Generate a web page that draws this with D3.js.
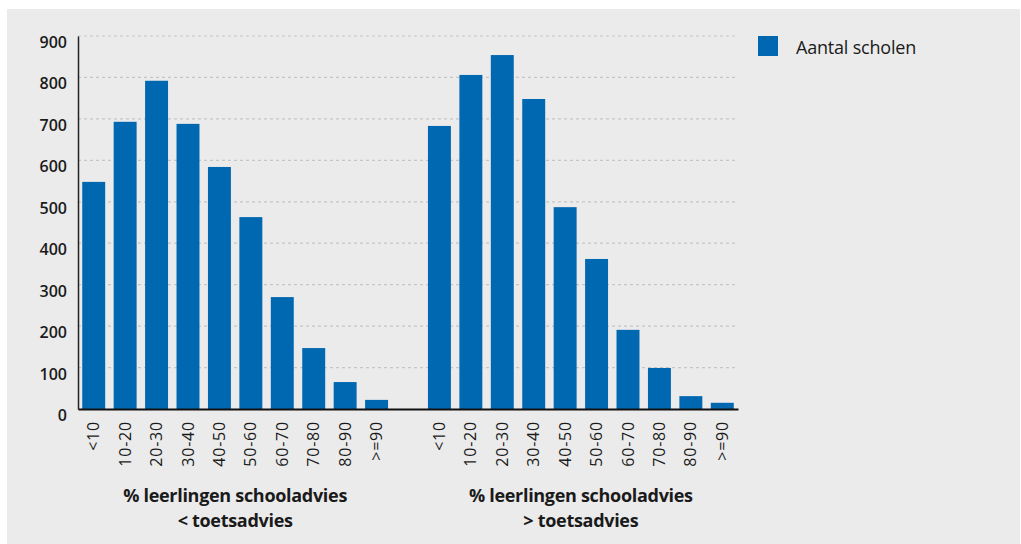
<!DOCTYPE html>
<html>
<head>
<meta charset="utf-8">
<script src="https://cdn.jsdelivr.net/npm/d3@7"></script>
<style>
  html, body { margin: 0; padding: 0; background: #ffffff; }
  svg { display: block; }
</style>
</head>
<body>
<svg id="chart" width="1021" height="544"></svg>
<script>
// ---- data ----
const categories = ["<10", "10-20", "20-30", "30-40", "40-50", "50-60", "60-70", "70-80", "80-90", ">=90"];
const lowerValues  = [548, 693, 792, 688, 584, 463, 270, 147, 65, 22];   // schooladvies < toetsadvies
const higherValues = [683, 806, 854, 748, 487, 362, 191, 99, 31, 15];    // schooladvies > toetsadvies
const groupTitles = [
  ["% leerlingen schooladvies", "< toetsadvies"],
  ["% leerlingen schooladvies", "> toetsadvies"]
];
const yTicks = [0, 100, 200, 300, 400, 500, 600, 700, 800, 900];
const seriesName = "Aantal scholen";

// ---- build rows ----
const groups = [lowerValues, higherValues];
const rows = [];
groups.forEach((vals, g) => {
  categories.forEach((c, i) => rows.push({ key: g + "|" + c, cat: c, group: g, value: vals[i] }));
  if (g === 0) rows.push({ key: "gap", cat: "", group: -1, value: null });
});

const svg = d3.select("#chart");
const W = 1021, H = 544;
const bg = "#ebebeb";
const blue = "#0067b1";
const FONT = "'Open Sans', 'Noto Sans', sans-serif";

svg.append("rect").attr("x", 7).attr("y", 9).attr("width", W - 8).attr("height", H - 9).attr("fill", bg);

const x = d3.scaleBand().domain(rows.map(d => d.key)).range([78, 738]).paddingInner(0.27).paddingOuter(0.135);
const y = d3.scaleLinear().domain([0, 900]).range([409, 36]);

// gridlines
svg.append("g").selectAll("line").data(yTicks.filter(t => t > 0)).join("line")
  .attr("x1", 78).attr("x2", 738)
  .attr("y1", d => y(d)).attr("y2", d => y(d))
  .attr("stroke", "#c6c6c6").attr("stroke-width", 1.2).attr("stroke-dasharray", "3,3");

// bars
svg.append("g").selectAll("rect").data(rows.filter(d => d.value !== null)).join("rect")
  .attr("x", d => x(d.key)).attr("width", x.bandwidth())
  .attr("y", d => y(d.value)).attr("height", d => y(0) - y(d.value))
  .attr("fill", blue);

// y axis
const yAxis = d3.axisLeft(y).tickValues(yTicks).tickSize(0).tickPadding(11);
const gy = svg.append("g").attr("transform", "translate(78,0)").call(yAxis);
gy.select(".domain").attr("stroke", "#222").attr("stroke-width", 1.5);
gy.selectAll("text").attr("font-family", FONT).attr("font-size", 16).attr("font-weight", 600)
  .attr("fill", "#1a1a1a").attr("dy", "0.72em");

// x axis
const xAxis = d3.axisBottom(x).tickSize(0).tickPadding(0).tickFormat(k => {
  const r = rows.find(d => d.key === k); return r ? r.cat : "";
});
const gx = svg.append("g").attr("transform", "translate(0,409)").call(xAxis);
gx.select(".domain").attr("stroke", "#111").attr("stroke-width", 2);
gx.selectAll("text")
  .attr("font-family", FONT).attr("font-size", 16).attr("fill", "#1a1a1a")
  .attr("letter-spacing", 0.8)
  .attr("transform", "rotate(-90)")
  .attr("text-anchor", "end")
  .attr("x", -12).attr("y", 0).attr("dy", "0.35em");

// group titles
groupTitles.forEach((lines, g) => {
  const keys = categories.map(c => g + "|" + c);
  const cx = (x(keys[0]) + x(keys[keys.length - 1]) + x.bandwidth()) / 2;
  const t = svg.append("text").attr("x", cx).attr("y", 502).attr("text-anchor", "middle")
    .attr("font-family", FONT).attr("font-size", 18).attr("font-weight", 700).attr("fill", "#1a1a1a")
    .attr("letter-spacing", -0.3);
  lines.forEach((ln, i) => t.append("tspan").attr("x", cx).attr("dy", i === 0 ? 0 : 25).text(ln));
});

// legend
const lg = svg.append("g").attr("transform", "translate(758,36)");
lg.append("rect").attr("width", 20).attr("height", 20).attr("fill", blue);
lg.append("text").attr("x", 38).attr("y", 18).attr("font-family", FONT).attr("font-size", 18)
  .attr("fill", "#1a1a1a").attr("letter-spacing", -0.2).text(seriesName);
</script>
</body>
</html>
